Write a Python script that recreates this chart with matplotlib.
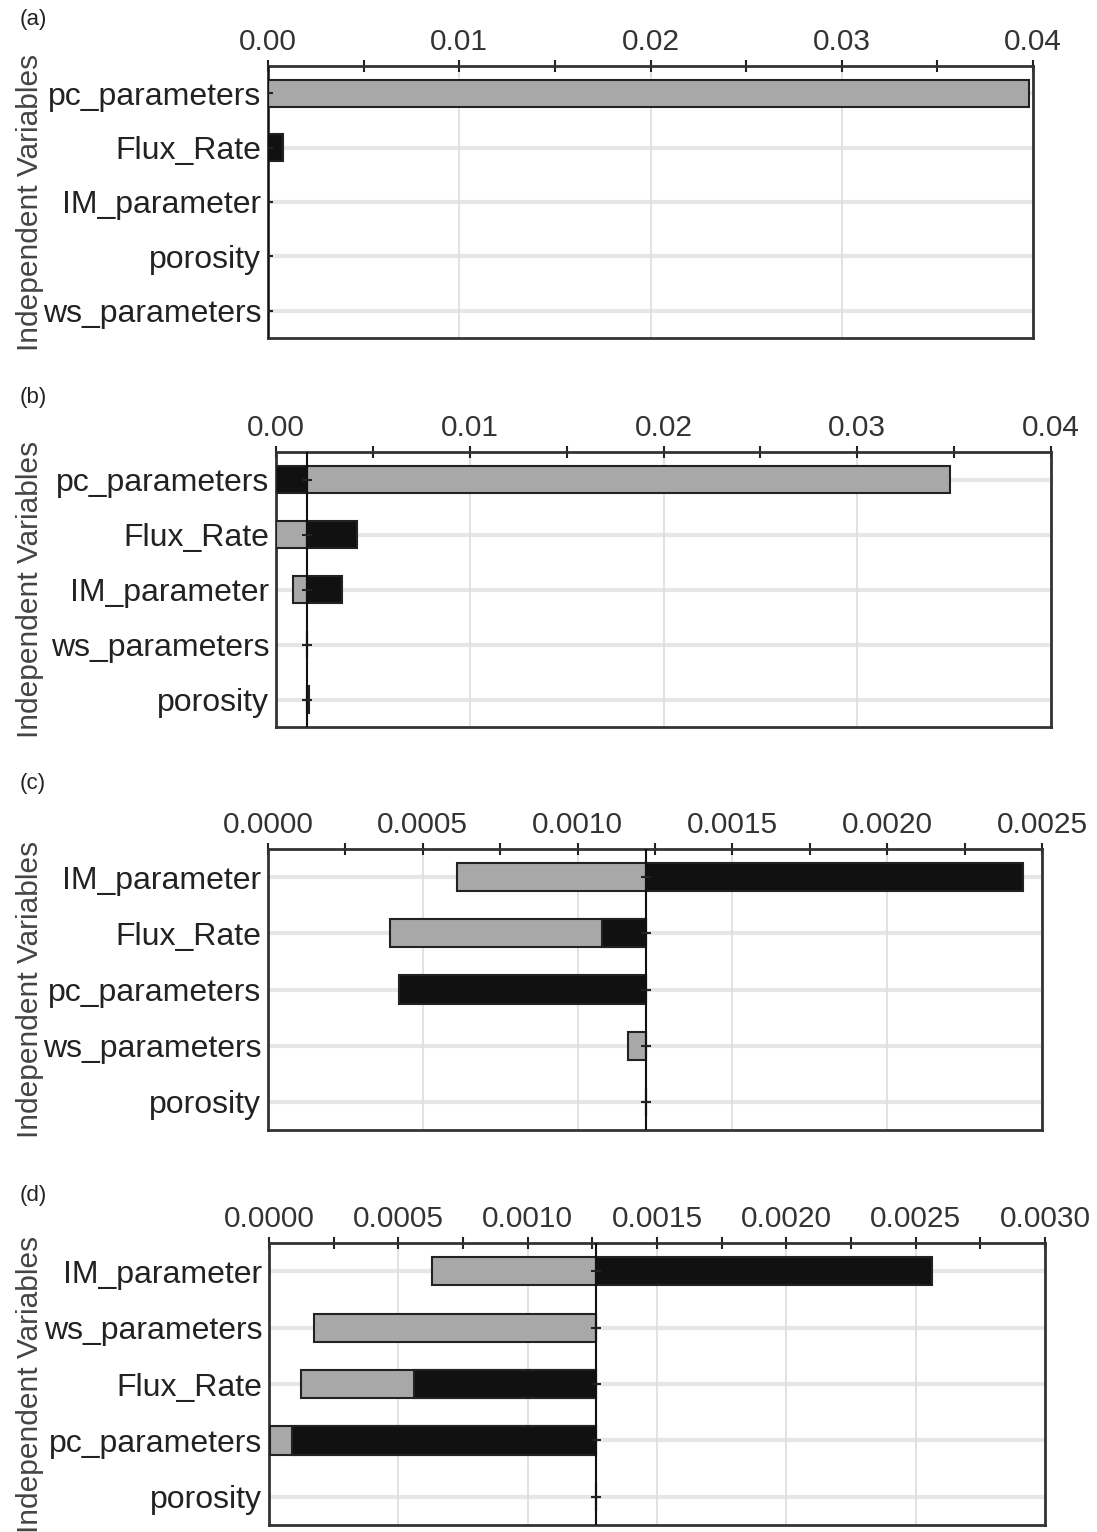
import numpy as np
import matplotlib
matplotlib.use("Agg")
import matplotlib.pyplot as plt
from matplotlib.ticker import MultipleLocator, FormatStrFormatter

plt.rcParams["font.family"] = ["Liberation Sans", "DejaVu Sans"]

# panel (a)
vars_a = ["pc_parameters", "Flux_Rate", "IM_parameter", "porosity", "ws_parameters"]
base_a = 0.0
gray_a = [0.0398, 0.0, 0.0, 0.0, 0.0]
black_a = [0.0, 0.0008, 0.0, 0.0, 0.0]

# panel (b)
vars_b = ["pc_parameters", "Flux_Rate", "IM_parameter", "ws_parameters", "porosity"]
base_b = 0.0016
gray_b = [0.0348, 0.0, 0.00088, 0.0016, 0.0016]
black_b = [0.0, 0.00418, 0.0034, 0.0016, 0.00172]

# panel (c)
vars_c = ["IM_parameter", "Flux_Rate", "pc_parameters", "ws_parameters", "porosity"]
base_c = 0.00122
gray_c = [0.00061, 0.000394, 0.00122, 0.001163, 0.00122]
black_c = [0.002439, 0.001079, 0.000423, 0.00122, 0.00122]

# panel (d)
vars_d = ["IM_parameter", "ws_parameters", "Flux_Rate", "pc_parameters", "porosity"]
base_d = 0.001266
gray_d = [0.000629, 0.000174, 0.000124, 0.000005, 0.001266]
black_d = [0.002564, 0.001266, 0.00056, 0.0000888, 0.001266]

W, H = 1097, 1532

# pixel boxes: left, right, top, bottom
boxes = [
    (268, 1033, 66, 338),
    (276, 1051, 452, 727),
    (268, 1042, 849, 1130),
    (269, 1045, 1243, 1525),
]
panel_y = [20, 398, 783, 1195]
xlims = [0.04, 0.04, 0.0025, 0.003]
majors = [0.01, 0.01, 0.0005, 0.0005]
fmts = ["%.2f", "%.2f", "%.4f", "%.4f"]

panels = [
    ("(a)", vars_a, base_a, gray_a, black_a),
    ("(b)", vars_b, base_b, gray_b, black_b),
    ("(c)", vars_c, base_c, gray_c, black_c),
    ("(d)", vars_d, base_d, gray_d, black_d),
]

fig = plt.figure(figsize=(W / 100, H / 100), dpi=100)

for i, (tag, names, base, gray, black) in enumerate(panels):
    l, r, t, b = boxes[i]
    ax = fig.add_axes([l / W, 1 - b / H, (r - l) / W, (b - t) / H])
    y = np.arange(len(names))
    gray = np.array(gray)
    black = np.array(black)

    # gray first, black drawn over it
    ax.barh(y, gray - base, left=base, height=0.5, color="#a8a8a8",
            edgecolor="#222222", linewidth=1.5, zorder=3)
    ax.barh(y, black - base, left=base, height=0.5, color="#111111",
            edgecolor="#222222", linewidth=1.5, zorder=4)

    # baseline with small tick marks
    ax.axvline(base, color="#111111", lw=1.5, zorder=5)
    ax.plot(np.full(len(y), base), y, linestyle="none", marker="_",
            markersize=7, mew=1.5, color="#222222", zorder=6)

    ax.set_xlim(0, xlims[i])
    ax.set_ylim(len(names) - 0.5, -0.5)
    ax.set_yticks(y)
    ax.set_yticklabels(names, fontsize=23, color="#222222")
    ax.tick_params(axis="y", length=0, pad=5)

    ax.xaxis.tick_top()
    ax.xaxis.set_major_locator(MultipleLocator(majors[i]))
    ax.xaxis.set_minor_locator(MultipleLocator(majors[i] / 2))
    ax.xaxis.set_major_formatter(FormatStrFormatter(fmts[i]))
    ax.tick_params(axis="x", which="both", direction="inout", length=9,
                   width=1.5, labelsize=21.5, labelcolor="#333333", pad=3,
                   color="#222222")

    ax.grid(axis="x", which="major", color="#dddddd", lw=1.2, zorder=0)
    for yy in y:
        ax.axhline(yy, color="#e6e6e6", lw=3, zorder=0)
    ax.set_axisbelow(True)

    for s in ax.spines.values():
        s.set_linewidth(2)
        s.set_color("#333333")

    fig.text(30 / W, 1 - ((t + b) / 2) / H, "Independent Variables",
             rotation=90, fontsize=21.5, color="#444444",
             ha="center", va="center")
    fig.text(20 / W, 1 - panel_y[i] / H, tag, fontsize=16,
             color="#222222", ha="left", va="center")

fig.savefig("out.png", dpi=100)
